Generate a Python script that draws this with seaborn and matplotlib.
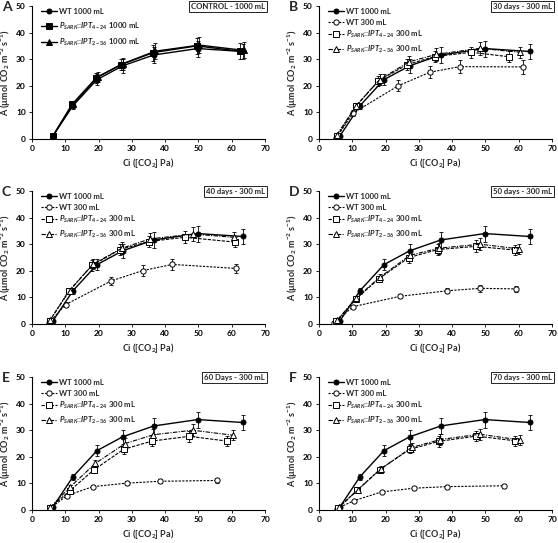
import numpy as np
import pandas as pd
import matplotlib
matplotlib.use("Agg")
import matplotlib.pyplot as plt
import seaborn as sns

# ------------------------------------------------------------------
# Values (A/Ci curves)
# ------------------------------------------------------------------
# WT 1000 mL is shared by every panel
wt1000_x = [6.2, 12.3, 19.5, 27.2, 36.6, 49.8, 63.3]
wt1000_y = [1.0, 12.5, 22.3, 27.5, 31.6, 34.0, 32.9]
wt1000_err = [0.3, 1.2, 2.0, 2.5, 3.0, 3.0, 3.0]

# panel A (control, 1000 mL)
a_ipt424_x = [6.2, 12.0, 19.3, 26.8, 36.5, 49.5, 62.5]
a_ipt424_y = [1.0, 13.0, 23.0, 28.0, 32.5, 35.0, 33.0]
a_ipt424_err = [0.3, 1.0, 1.8, 2.2, 3.0, 3.0, 3.0]
a_ipt236_x = [6.3, 12.4, 19.7, 27.3, 37.0, 50.3, 63.8]
a_ipt236_y = [1.2, 13.2, 23.3, 28.3, 33.0, 35.3, 33.3]
a_ipt236_err = [0.3, 1.0, 1.8, 2.2, 3.0, 3.0, 3.0]

# panel B (30 days)
b_wt300_x = [5.2, 10.3, 23.8, 33.3, 42.3, 61.4]
b_wt300_y = [0.5, 9.8, 20.0, 25.1, 27.2, 27.1]
b_wt300_err = [0.5, 1.0, 2.0, 2.2, 2.5, 2.5]
b_ipt424_x = [5.5, 11.0, 17.8, 26.5, 34.8, 45.8, 57.2]
b_ipt424_y = [1.2, 12.3, 21.8, 28.0, 31.0, 32.6, 30.9]
b_ipt424_err = [0.5, 1.0, 2.0, 2.0, 2.0, 2.0, 2.0]
b_ipt236_x = [5.3, 11.2, 18.2, 27.0, 35.2, 48.3, 60.4]
b_ipt236_y = [1.5, 12.5, 22.3, 29.0, 31.8, 34.1, 32.6]
b_ipt236_err = [0.5, 1.0, 2.0, 2.3, 2.3, 2.5, 2.0]

# panel C (40 days)
c_wt300_x = [5.0, 10.1, 23.8, 33.3, 42.2, 61.3]
c_wt300_y = [0.3, 7.3, 16.2, 20.1, 22.4, 20.9]
c_wt300_err = [0.4, 0.8, 1.5, 2.0, 2.0, 1.8]
c_ipt424_x = [5.3, 11.0, 18.0, 26.5, 35.0, 45.9, 61.0]
c_ipt424_y = [1.2, 12.3, 22.0, 28.0, 31.0, 32.6, 30.8]
c_ipt424_err = [0.5, 1.0, 2.0, 2.0, 2.0, 2.2, 2.0]
c_ipt236_x = [5.4, 11.3, 18.3, 27.0, 35.5, 48.4, 60.6]
c_ipt236_y = [1.4, 12.5, 22.5, 28.5, 32.0, 33.8, 32.6]
c_ipt236_err = [0.5, 1.0, 2.0, 2.3, 2.3, 2.5, 2.0]

# panel D (50 days)
d_wt300_x = [4.5, 10.2, 24.3, 38.6, 48.3, 59.3]
d_wt300_y = [0.3, 6.5, 10.4, 12.5, 13.4, 13.2]
d_wt300_err = [0.3, 0.6, 0.8, 1.0, 1.2, 1.0]
d_ipt424_x = [5.2, 11.0, 18.0, 27.0, 35.8, 47.2, 58.8]
d_ipt424_y = [1.0, 9.3, 17.0, 25.0, 28.0, 29.2, 27.8]
d_ipt424_err = [0.5, 0.8, 1.2, 2.0, 2.0, 2.2, 2.0]
d_ipt236_x = [5.5, 11.2, 18.2, 27.3, 36.0, 48.5, 60.2]
d_ipt236_y = [1.5, 9.8, 17.5, 25.8, 28.5, 30.0, 28.2]
d_ipt236_err = [0.5, 0.8, 1.2, 2.0, 2.0, 2.2, 2.0]

# panel E (60 days)
e_wt300_x = [5.3, 10.5, 18.3, 28.5, 38.5, 55.5]
e_wt300_y = [0.5, 5.4, 8.8, 10.1, 10.8, 11.1]
e_wt300_err = [0.3, 0.5, 0.6, 0.7, 0.8, 0.8]
e_ipt424_x = [5.5, 11.3, 18.5, 27.5, 36.0, 47.2, 58.7]
e_ipt424_y = [0.8, 7.2, 15.0, 22.8, 25.9, 27.7, 25.9]
e_ipt424_err = [0.4, 0.8, 1.2, 1.8, 2.0, 2.0, 1.8]
e_ipt236_x = [5.5, 11.5, 19.0, 28.0, 36.5, 48.3, 60.4]
e_ipt236_y = [1.0, 8.7, 17.5, 25.0, 28.3, 30.0, 28.1]
e_ipt236_err = [0.4, 0.8, 1.2, 2.0, 2.2, 2.2, 1.8]

# panel F (70 days)
f_wt300_x = [5.3, 10.5, 18.8, 28.5, 38.5, 55.5]
f_wt300_y = [0.5, 3.5, 6.8, 8.2, 8.8, 9.1]
f_wt300_err = [0.3, 0.4, 0.5, 0.6, 0.6, 0.7]
f_ipt424_x = [5.8, 11.5, 18.3, 27.2, 36.0, 47.3, 59.0]
f_ipt424_y = [0.8, 7.5, 15.2, 22.8, 25.8, 27.8, 26.0]
f_ipt424_err = [0.4, 0.7, 1.0, 1.5, 2.0, 2.0, 1.8]
f_ipt236_x = [6.0, 11.7, 18.6, 27.8, 36.5, 48.3, 60.5]
f_ipt236_y = [1.0, 7.6, 15.5, 23.5, 26.5, 28.5, 26.3]
f_ipt236_err = [0.4, 0.7, 1.0, 1.8, 2.0, 2.0, 1.8]

panel_letters = ["A", "B", "C", "D", "E", "F"]
panel_titles = ["CONTROL - 1000 mL", "30 days - 300 mL", "40 days - 300 mL",
                "50 days - 300 mL", "60 Days - 300 mL", "70 days - 300 mL"]

# ------------------------------------------------------------------
sns.set_theme(style="ticks")
plt.rcParams['font.family'] = ['Lato', 'DejaVu Sans']
plt.rcParams.update({
    'mathtext.fontset': 'custom',
    'mathtext.rm': 'Lato:bold',
    'mathtext.bf': 'Lato:bold',
    'mathtext.it': 'Lato:italic:bold',
    'axes.linewidth': 0.8,
    'axes.edgecolor': 'black',
    'xtick.color': 'black',
    'ytick.color': 'black',
})

lab424 = r"$P_{SARK}$::$IPT_{4-24}$"
lab236 = r"$P_{SARK}$::$IPT_{2-36}$"

solid = "-"
dash_wt300 = (0, (2, 1.2))
dash_424 = (0, (3, 1.2))
dash_236 = (0, (4, 1.2, 1, 1.2))

def series(x, y, err, label, marker, filled, ls, ms):
    return dict(x=x, y=y, err=err, label=label, marker=marker,
                filled=filled, ls=ls, ms=ms)

wt1000 = series(wt1000_x, wt1000_y, wt1000_err, "WT 1000 mL", "o", True, solid, 3.6)

panels = [
    [wt1000,
     series(a_ipt424_x, a_ipt424_y, a_ipt424_err, lab424 + " 1000 mL", "s", True, solid, 4.6),
     series(a_ipt236_x, a_ipt236_y, a_ipt236_err, lab236 + " 1000 mL", "^", True, solid, 4.0)],
]
for wx, wy, we, sx, sy, se, tx, ty, te in [
    (b_wt300_x, b_wt300_y, b_wt300_err, b_ipt424_x, b_ipt424_y, b_ipt424_err, b_ipt236_x, b_ipt236_y, b_ipt236_err),
    (c_wt300_x, c_wt300_y, c_wt300_err, c_ipt424_x, c_ipt424_y, c_ipt424_err, c_ipt236_x, c_ipt236_y, c_ipt236_err),
    (d_wt300_x, d_wt300_y, d_wt300_err, d_ipt424_x, d_ipt424_y, d_ipt424_err, d_ipt236_x, d_ipt236_y, d_ipt236_err),
    (e_wt300_x, e_wt300_y, e_wt300_err, e_ipt424_x, e_ipt424_y, e_ipt424_err, e_ipt236_x, e_ipt236_y, e_ipt236_err),
    (f_wt300_x, f_wt300_y, f_wt300_err, f_ipt424_x, f_ipt424_y, f_ipt424_err, f_ipt236_x, f_ipt236_y, f_ipt236_err),
]:
    panels.append([
        wt1000,
        series(wx, wy, we, "WT 300 mL", "o", False, dash_wt300, 3.8),
        series(sx, sy, se, lab424 + " 300 mL", "s", False, dash_424, 4.2),
        series(tx, ty, te, lab236 + " 300 mL", "^", False, dash_236, 4.0),
    ])

W, H = 558, 543
fig = plt.figure(figsize=(W / 100, H / 100), dpi=100)

col_left = [32, 319]
row_top = [6, 191, 377]
ax_w, ax_h = 233, 133

for i, (letter, title, sers) in enumerate(zip(panel_letters, panel_titles, panels)):
    r, c = divmod(i, 2)
    left = col_left[c] / W
    bottom = 1 - (row_top[r] + ax_h) / H
    ax = fig.add_axes([left, bottom, ax_w / W, ax_h / H])

    for s in sers:
        df = pd.DataFrame({"Ci": s["x"], "A": s["y"]})
        ax.errorbar(s["x"], s["y"], yerr=s["err"], fmt="none", ecolor="black",
                    elinewidth=0.6, capsize=1.4, capthick=0.6, zorder=1)
        sns.lineplot(data=df, x="Ci", y="A", ax=ax, sort=False, estimator=None,
                     color="black", linestyle=s["ls"],
                     linewidth=1.0 if s["ls"] == solid else 0.8,
                     marker=s["marker"], markersize=s["ms"],
                     markerfacecolor="black" if s["filled"] else "white",
                     markeredgecolor="black", markeredgewidth=0.7,
                     label=s["label"], zorder=3)

    ax.set_xlim(0, 70)
    ax.set_ylim(0, 50)
    ax.set_xticks(np.arange(0, 71, 10))
    ax.set_yticks(np.arange(0, 51, 10))
    sns.despine(ax=ax)
    ax.tick_params(direction="out", length=2.5, width=0.6, labelsize=6, pad=2)
    for lbl in ax.get_xticklabels() + ax.get_yticklabels():
        lbl.set_fontweight("bold")

    ax.set_xlabel("Ci ([CO$_2$] Pa)", fontsize=6.5, fontweight="bold")
    ax.set_ylabel("A (µmol CO$_2$ m$^{-2}$ s$^{-1}$)", fontsize=6.5, fontweight="bold")
    ax.xaxis.set_label_coords(0.5, -0.13)
    ax.yaxis.set_label_coords(-0.08, 0.5)

    leg = ax.legend(loc="upper left", bbox_to_anchor=(0.02, 1.02), frameon=False,
                    prop=dict(weight="bold", size=5.6), handlelength=2.0,
                    handletextpad=0.3, labelspacing=0.7 if i == 0 else 0.45,
                    borderaxespad=0.2)

    ax.text(1.0, 1.02, title, transform=ax.transAxes, ha="right", va="top",
            fontsize=5.6, fontweight="bold",
            bbox=dict(boxstyle="square,pad=0.25", fc="white", ec="black", lw=0.6))

    fig.text((col_left[c] - 30) / W, 1 - (row_top[r] + 1) / H, letter,
             fontsize=10, fontweight="bold", ha="left", va="center")

fig.savefig("out.png", dpi=100)
